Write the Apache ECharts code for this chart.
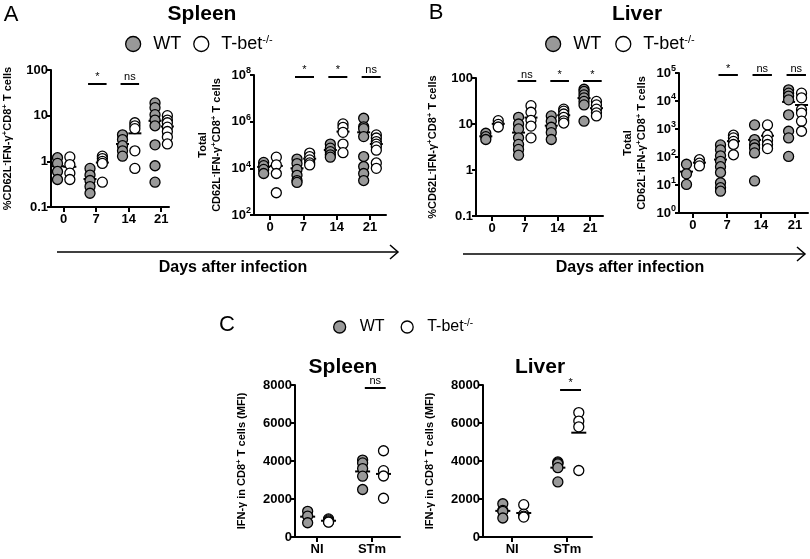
<!DOCTYPE html>
<html><head><meta charset="utf-8">
<script src="https://cdn.jsdelivr.net/npm/echarts@6/dist/echarts.min.js"></script>
<style>html,body{margin:0;padding:0;background:#fff}#c{width:810px;height:559px}</style>
</head><body><div id="c"></div>
<script>
// ---------- data ----------
const days = ['0', '7', '14', '21'];
const infection = ['NI', 'STm'];

// A, Spleen, % CD62L- IFN-g+ CD8+ T cells
const spleenPctWT = [[1.2, 0.9, 0.6, 0.4], [0.7, 0.5, 0.38, 0.28, 0.2], [3.8, 3.0, 2.2, 1.7, 1.3], [19, 15, 10.5, 8, 6, 2.3, 0.8, 0.35]];
const spleenPctKO = [[1.25, 0.85, 0.55, 0.4], [1.3, 1.15, 1.0, 0.9, 0.35], [7, 6, 5.2, 1.7, 0.7], [10, 8, 7, 5.6, 4.5, 3.4, 2.4]];
const spleenPctWTMean = [0.78, 0.41, 2.4, 7.7];
const spleenPctKOMean = [0.76, 0.94, 4.1, 5.8];
const spleenPctSigDays = [1, 2, 3];
const spleenPctSigText = ['*', 'ns', 'ns'];
const spleenPctSigLevel = 50;

// A, Spleen, total cells
const spleenTotWT = [[18000, 13000, 9000, 6000], [25000, 16000, 9000, 5000, 3000, 2500], [110000, 73000, 52000, 38000, 30000], [1400000, 600000, 500000, 230000, 32000, 12000, 6000, 3000]];
const spleenTotKO = [[30000, 14000, 6000, 900], [45000, 32000, 23000, 17000, 14000], [800000, 570000, 350000, 110000, 47000], [270000, 200000, 140000, 110000, 85000, 60000, 17000, 10000]];
const spleenTotWTMean = [11500, 10000, 61000, 350000];
const spleenTotKOMean = [12700, 26000, 375000, 110000];
const spleenTotSigDays = [1, 2, 3];
const spleenTotSigText = ['*', '*', 'ns'];
const spleenTotSigLevel = 8.5e7;

// B, Liver, %
const liverPctWT = [[6.3, 5.3, 4.6], [14, 10, 7.8, 5, 3.6, 2.8, 2.1], [15, 11.5, 8.5, 6.5, 4.6], [57, 51, 43, 37, 31, 26, 11.5]];
const liverPctKO = [[11.8, 9.8, 8.6], [25, 18, 12, 9, 5], [21, 19, 16.5, 14, 11.7, 10.5], [31, 26, 21, 17.5, 15]];
const liverPctWTMean = [5.4, 6.5, 9.2, 36.6];
const liverPctKOMean = [10.1, 13.8, 15.5, 22.1];
const liverPctSigDays = [1, 2, 3];
const liverPctSigText = ['ns', '*', '*'];
const liverPctSigLevel = 85;

// B, Liver, total cells
const liverTotWT = [[55, 25, 10.5], [270, 180, 110, 70, 45, 28, 12, 8, 6], [1400, 420, 275, 210, 140, 14], [25000, 19000, 15000, 11000, 3200, 830, 480, 105]];
const liverTotKO = [[80, 60, 48], [600, 480, 360, 280, 120], [1400, 600, 400, 280, 200], [19000, 13000, 4900, 3700, 1900, 830]];
const liverTotWTMean = [30, 81, 410, 9300];
const liverTotKOMean = [63, 368, 576, 7200];
const liverTotSigDays = [1, 2, 3];
const liverTotSigText = ['*', 'ns', 'ns'];
const liverTotSigLevel = 85000;

// C, IFN-g MFI
const spleenMfiWT = [[1350, 1100, 750], [4050, 3900, 3600, 3200, 2500]];
const spleenMfiKO = [[950, 900, 850, 800, 780], [4540, 3490, 3210, 2040]];
const spleenMfiWTMean = [1070, 3450];
const spleenMfiKOMean = [856, 3320];
const spleenMfiSigDays = [1];
const spleenMfiSigText = ['ns'];
const spleenMfiSigLevel = 7850;

const liverMfiWT = [[1750, 1400, 1350, 1000], [3950, 3900, 3850, 3650, 2900]];
const liverMfiKO = [[1700, 1200, 1100, 1050], [6550, 6100, 5800, 3500]];
const liverMfiWTMean = [1375, 3650];
const liverMfiKOMean = [1262, 5490];
const liverMfiSigDays = [1];
const liverMfiSigText = ['*'];
const liverMfiSigLevel = 7750;

// ---------- styling helpers ----------
const FONT = '"Liberation Sans", Arial, Helvetica, sans-serif';
const GREY = '#999999';
const BLACK = '#000';

function xAxisCfg(gi, min, max, labels) {
  const ticks = labels.map((_, i) => i);
  return {
    type: 'value', gridIndex: gi, min: min, max: max,
    axisLine: { show: true, onZero: false, lineStyle: { color: BLACK, width: 2 } },
    axisTick: { show: true, customValues: ticks, length: 5, lineStyle: { color: BLACK, width: 2 } },
    axisLabel: { show: true, customValues: ticks, formatter: (v) => labels[Math.round(v)], fontSize: 13, fontWeight: 'bold', color: BLACK, margin: 6, fontFamily: FONT },
    splitLine: { show: false }
  };
}

const nameRich = {
  n: { fontSize: 11, fontWeight: 'bold', color: BLACK, fontFamily: FONT, lineHeight: 14 },
  s: { fontSize: 8, fontWeight: 'bold', color: BLACK, fontFamily: FONT, padding: [0, 0, 6, 0] }
};
const tickRich = {
  b: { fontSize: 13, fontWeight: 'bold', color: BLACK, fontFamily: FONT },
  s: { fontSize: 9, fontWeight: 'bold', color: BLACK, fontFamily: FONT, padding: [0, 0, 8, 0] }
};

function yAxisCfg(gi, opts) {
  const cfg = {
    gridIndex: gi, min: opts.min, max: opts.max,
    name: opts.name, nameLocation: 'middle', nameRotate: 90, nameGap: opts.gap,
    nameTextStyle: { rich: nameRich, align: 'center' },
    axisLine: { show: true, onZero: false, lineStyle: { color: BLACK, width: 2 } },
    axisTick: { show: true, length: 4, lineStyle: { color: BLACK, width: 2 } },
    axisLabel: { show: true, fontSize: 13, fontWeight: 'bold', color: BLACK, margin: 3, fontFamily: FONT, rich: tickRich, formatter: opts.fmt },
    splitLine: { show: false }, minorTick: { show: false }
  };
  if (opts.log) { cfg.type = 'log'; cfg.logBase = 10; } else { cfg.type = 'value'; }
  if (opts.interval) cfg.interval = opts.interval;
  return cfg;
}

const decimalFmt = (v) => { const e = Math.round(Math.log10(v)); return e < 0 ? '0.1' : String(Math.pow(10, e)); };
const powerFmt = (v) => { const e = Math.round(Math.log10(v)); return '{b|10}{s|' + e + '}'; };
const plainFmt = (v) => String(v);

function dotSeries(gi, name, groups, offset, fill) {
  const data = [];
  groups.forEach((vals, i) => vals.forEach((v) => data.push([i + offset, v])));
  return {
    type: 'scatter', name: name, xAxisIndex: gi, yAxisIndex: gi, data: data,
    symbol: 'circle', symbolSize: 10,
    itemStyle: { color: fill, borderColor: BLACK, borderWidth: 1.3, opacity: 1 },
    z: 3, emphasis: { disabled: true }, silent: true
  };
}
function meanSeries(gi, means, offset, w) {
  return {
    type: 'scatter', name: 'mean', xAxisIndex: gi, yAxisIndex: gi,
    data: means.map((m, i) => [i + offset, m]),
    symbol: 'rect', symbolSize: [w, 2], itemStyle: { color: BLACK, opacity: 1 },
    z: 2, emphasis: { disabled: true }, silent: true
  };
}
function sigSeries(gi, sigDays, texts, level, l, r) {
  return {
    type: 'scatter', name: 'sig', xAxisIndex: gi, yAxisIndex: gi, data: [], silent: true,
    markLine: {
      silent: true, symbol: ['none', 'none'], animation: false,
      lineStyle: { color: BLACK, width: 2, type: 'solid' },
      label: { show: true, position: 'insideMiddleTop', distance: 1, formatter: '{b}', fontSize: 11, color: BLACK, fontFamily: FONT },
      emphasis: { disabled: true },
      data: sigDays.map((d, i) => [{ coord: [d + l, level], name: texts[i] }, { coord: [d + r, level] }])
    }
  };
}

const WT_OFF = -0.19, KO_OFF = 0.19;
const C_WT_OFF = -0.17, C_KO_OFF = 0.21;

const nameTotal = '{n|Total}\n{n|CD62L}{s|-}{n|IFN-γ}{s|+}{n|CD8}{s|+}{n| T cells}';
const namePct = '{n|%CD62L}{s|-}{n|IFN-γ}{s|+}{n|CD8}{s|+}{n| T cells}';
const nameMfi = '{n|IFN-γ in CD8}{s|+}{n| T cells (MFI)}';

const option = {
  animation: false,
  backgroundColor: '#fff',
  textStyle: { fontFamily: FONT, color: BLACK },
  grid: [
    { left: 49, top: 70, width: 120, height: 137 },
    { left: 254, top: 75, width: 132, height: 140 },
    { left: 476, top: 78, width: 127, height: 138 },
    { left: 679, top: 73, width: 129, height: 140 },
    { left: 295, top: 385, width: 105, height: 152 },
    { left: 483, top: 385, width: 109, height: 152 }
  ],
  xAxis: [
    xAxisCfg(0, -0.39, 3.24, days),
    xAxisCfg(1, -0.48, 3.48, days),
    xAxisCfg(2, -0.49, 3.39, days),
    xAxisCfg(3, -0.41, 3.38, days),
    xAxisCfg(4, -0.40, 1.51, infection),
    xAxisCfg(5, -0.53, 1.45, infection)
  ],
  yAxis: [
    yAxisCfg(0, { log: true, min: 0.1, max: 100, interval: 1, fmt: decimalFmt, name: namePct, gap: 36 }),
    yAxisCfg(1, { log: true, min: 1e2, max: 1e8, interval: 2, fmt: powerFmt, name: nameTotal, gap: 30 }),
    yAxisCfg(2, { log: true, min: 0.1, max: 100, interval: 1, fmt: decimalFmt, name: namePct, gap: 36 }),
    yAxisCfg(3, { log: true, min: 1, max: 1e5, interval: 1, fmt: powerFmt, name: nameTotal, gap: 30 }),
    yAxisCfg(4, { log: false, min: 0, max: 8000, interval: 2000, fmt: plainFmt, name: nameMfi, gap: 46 }),
    yAxisCfg(5, { log: false, min: 0, max: 8000, interval: 2000, fmt: plainFmt, name: nameMfi, gap: 46 })
  ],
  legend: [
    legendCfg(125, 34, 30, 15, 18, 12),
    legendCfg(545, 34, 30, 15, 18, 14),
    legendCfg(333, 318, 30, 12, 16, 16)
  ],
  series: [
    dotSeries(0, 'WT', spleenPctWT, WT_OFF, GREY),
    dotSeries(0, 'T-bet', spleenPctKO, KO_OFF, '#fff'),
    meanSeries(0, spleenPctWTMean, WT_OFF, 13),
    meanSeries(0, spleenPctKOMean, KO_OFF, 13),
    sigSeries(0, spleenPctSigDays, spleenPctSigText, spleenPctSigLevel, -0.25, 0.32),

    dotSeries(1, 'WT', spleenTotWT, WT_OFF, GREY),
    dotSeries(1, 'T-bet', spleenTotKO, KO_OFF, '#fff'),
    meanSeries(1, spleenTotWTMean, WT_OFF, 13),
    meanSeries(1, spleenTotKOMean, KO_OFF, 13),
    sigSeries(1, spleenTotSigDays, spleenTotSigText, spleenTotSigLevel, -0.25, 0.32),

    dotSeries(2, 'WT', liverPctWT, WT_OFF, GREY),
    dotSeries(2, 'T-bet', liverPctKO, KO_OFF, '#fff'),
    meanSeries(2, liverPctWTMean, WT_OFF, 13),
    meanSeries(2, liverPctKOMean, KO_OFF, 13),
    sigSeries(2, liverPctSigDays, liverPctSigText, liverPctSigLevel, -0.22, 0.35),

    dotSeries(3, 'WT', liverTotWT, WT_OFF, GREY),
    dotSeries(3, 'T-bet', liverTotKO, KO_OFF, '#fff'),
    meanSeries(3, liverTotWTMean, WT_OFF, 13),
    meanSeries(3, liverTotKOMean, KO_OFF, 13),
    sigSeries(3, liverTotSigDays, liverTotSigText, liverTotSigLevel, -0.25, 0.32),

    dotSeries(4, 'WT', spleenMfiWT, C_WT_OFF, GREY),
    dotSeries(4, 'T-bet', spleenMfiKO, C_KO_OFF, '#fff'),
    meanSeries(4, spleenMfiWTMean, C_WT_OFF, 15),
    meanSeries(4, spleenMfiKOMean, C_KO_OFF, 15),
    sigSeries(4, spleenMfiSigDays, spleenMfiSigText, spleenMfiSigLevel, -0.13, 0.25),

    dotSeries(5, 'WT', liverMfiWT, C_WT_OFF, GREY),
    dotSeries(5, 'T-bet', liverMfiKO, C_KO_OFF, '#fff'),
    meanSeries(5, liverMfiWTMean, C_WT_OFF, 15),
    meanSeries(5, liverMfiKOMean, C_KO_OFF, 15),
    sigSeries(5, liverMfiSigDays, liverMfiSigText, liverMfiSigLevel, -0.13, 0.25)
  ],
  graphic: [
    txt('A', 11, 15, 22, 'normal'),
    txt('B', 436, 13, 22, 'normal'),
    txt('C', 227, 325, 22, 'normal'),
    txt('Spleen', 202, 14, 21, 'bold'),
    txt('Liver', 637, 14, 21, 'bold'),
    txt('Spleen', 343, 367, 21, 'bold'),
    txt('Liver', 540, 367, 21, 'bold'),
    txt('Days after infection', 233, 268, 16, 'bold'),
    txt('Days after infection', 630, 268, 16, 'bold'),
    arrow(57, 398, 252),
    arrow(463, 805, 254)
  ].flat()
};

function legendCfg(left, top, w, h, fs, gap) {
  return {
    left: left, top: top, orient: 'horizontal', data: ['WT', 'T-bet'], icon: 'circle',
    itemWidth: w, itemHeight: h, itemGap: gap, selectedMode: false, padding: 0,
    itemStyle: { borderColor: BLACK, borderWidth: 1.3 },
    formatter: (n) => n === 'WT' ? '{a|WT}' : '{a|T-bet}{s|-/-}',
    textStyle: {
      fontSize: fs, color: BLACK, fontFamily: FONT,
      rich: {
        a: { fontSize: fs, color: BLACK, fontFamily: FONT },
        s: { fontSize: Math.round(fs * 0.6), color: BLACK, fontFamily: FONT, padding: [0, 0, Math.round(fs * 0.5), 0] }
      }
    }
  };
}
function txt(t, x, y, fs, fw) {
  return {
    type: 'text', x: x, y: y, silent: true,
    style: { text: t, align: 'center', verticalAlign: 'middle', fill: BLACK, font: fw + ' ' + fs + 'px ' + FONT }
  };
}
function arrow(x1, x2, y) {
  return [
    { type: 'line', silent: true, shape: { x1: x1, y1: y, x2: x2, y2: y }, style: { stroke: BLACK, lineWidth: 1.5 } },
    { type: 'polyline', silent: true, shape: { points: [[x2 - 8, y - 7], [x2, y], [x2 - 8, y + 7]] }, style: { stroke: BLACK, lineWidth: 1.5, fill: null } }
  ];
}

const chart = echarts.init(document.getElementById('c'), null, { renderer: 'canvas' });
chart.setOption(option);
</script>
</body></html>
